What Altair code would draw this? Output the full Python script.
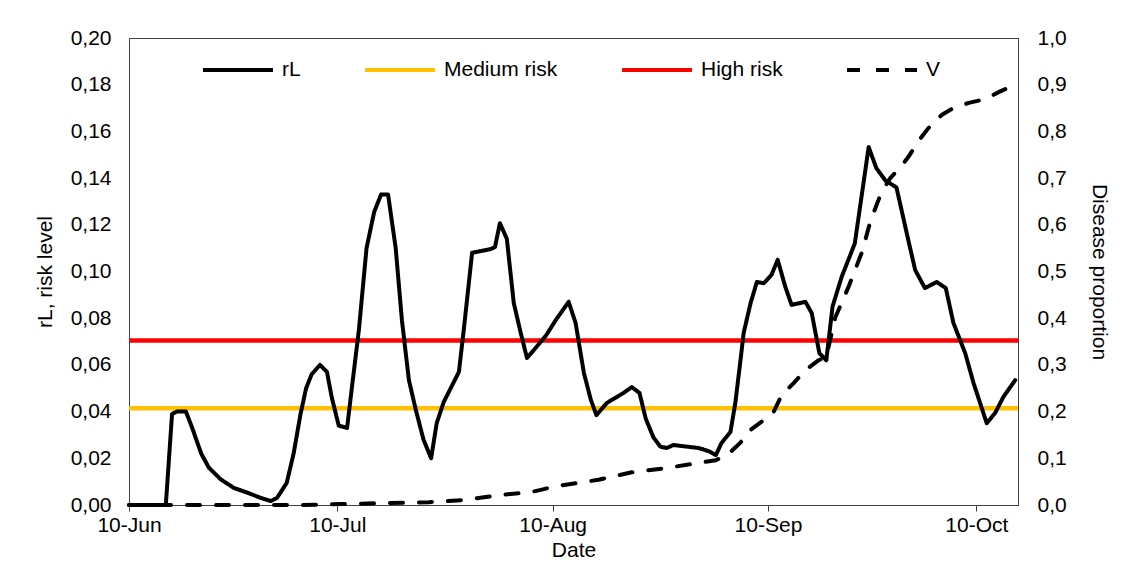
import json
import altair as alt
import pandas as pd

# ---- data ----
# days counted from 10 June
rl_day = [0.0, 5.3, 6.2, 6.9, 8.2, 9.1, 10.4, 11.5, 13.2, 15.1, 17.3, 19.0, 20.4, 21.3, 22.7,
          23.7, 24.7, 25.5, 26.3, 27.5, 28.5, 29.2, 30.2, 31.4, 32.1, 33.1, 34.2, 35.3, 36.3,
          37.3, 38.4, 39.3, 40.3, 41.3, 42.4, 43.5, 44.3, 45.3, 47.5, 48.2, 49.4, 52.1, 52.7,
          53.4, 54.4, 55.4, 56.4, 57.3, 58.3, 60.1, 61.4, 63.3, 64.3, 65.5, 66.5, 67.3, 68.8,
          71.2, 72.4, 73.5, 74.4, 75.5, 76.5, 77.4, 78.4, 82.0, 83.5, 84.5, 85.3, 86.6, 87.3,
          88.1, 88.5, 89.5, 90.4, 91.4, 92.5, 93.4, 94.5, 95.4, 97.4, 98.3, 99.4, 100.4, 101.3,
          102.6, 104.5, 106.5, 107.6, 108.9, 110.5, 112.2, 113.2, 114.6, 116.3, 117.6, 118.7,
          120.4, 121.6, 123.5, 124.7, 125.9, 127.6]
rl_value = [0.000, 0.000, 0.039, 0.040, 0.040, 0.033, 0.022, 0.016, 0.011, 0.0073, 0.005, 0.003,
            0.0017, 0.003, 0.0094, 0.022, 0.039, 0.050, 0.056, 0.060, 0.057, 0.046, 0.034, 0.033,
            0.0505, 0.075, 0.110, 0.1255, 0.133, 0.133, 0.110, 0.079, 0.0535, 0.0407, 0.028, 0.020,
            0.035, 0.044, 0.057, 0.075, 0.108, 0.1096, 0.1105, 0.1207, 0.114, 0.0865, 0.0737, 0.063,
            0.0664, 0.0728, 0.079, 0.087, 0.078, 0.0565, 0.045, 0.0385, 0.0437, 0.048, 0.0505, 0.048,
            0.037, 0.029, 0.025, 0.0244, 0.0257, 0.0244, 0.023, 0.0214, 0.0265, 0.0313, 0.0437,
            0.0634, 0.0737, 0.0865, 0.0955, 0.095, 0.0985, 0.105, 0.0934, 0.0857, 0.087, 0.0822,
            0.065, 0.062, 0.085, 0.0976, 0.112, 0.1533, 0.1443, 0.139, 0.136, 0.1135, 0.1006,
            0.0929, 0.0955, 0.0929, 0.078, 0.065, 0.0522, 0.035, 0.0394, 0.0463, 0.0535]

v_day = [0.0, 24.5, 30.6, 43.2, 48.5, 53.2, 58.0, 61.4, 67.6, 72.4, 77.3, 82.0, 84.5, 86.3,
         88.0, 89.5, 91.4, 92.8, 94.0, 95.7, 97.4, 99.3, 100.4, 101.7, 103.6, 105.5, 106.8,
         108.3, 109.6, 111.1, 112.2, 113.7, 115.1, 117.0, 118.7, 120.9, 123.3, 125.2, 127.6]
v_value = [0.0, 0.0, 0.002, 0.006, 0.011, 0.021, 0.028, 0.040, 0.054, 0.070, 0.079, 0.090, 0.096,
           0.109, 0.133, 0.161, 0.182, 0.199, 0.236, 0.261, 0.289, 0.310, 0.317, 0.402, 0.467,
           0.540, 0.610, 0.668, 0.700, 0.724, 0.745, 0.780, 0.807, 0.835, 0.850, 0.861, 0.869,
           0.884, 0.900]

level_names = ["Medium risk", "High risk"]
level_values = [0.0414, 0.0704]

series_names = ["rL", "Medium risk", "High risk", "V"]
series_colors = ["#000000", "#FFC000", "#FF0000", "#000000"]
series_dash = [[1, 0], [1, 0], [1, 0], [13, 16]]

tick_days = [0, 30, 61, 92, 122]
tick_labels = ["10-Jun", "10-Jul", "10-Aug", "10-Sep", "10-Oct"]
left_ticks = [0.00, 0.02, 0.04, 0.06, 0.08, 0.10, 0.12, 0.14, 0.16, 0.18, 0.20]
right_ticks = [0.0, 0.1, 0.2, 0.3, 0.4, 0.5, 0.6, 0.7, 0.8, 0.9, 1.0]

# ---- tables ----
rl_df = pd.DataFrame({"day": rl_day, "value": rl_value, "series": "rL"})
v_df = pd.DataFrame({"day": v_day, "value": v_value, "series": "V"})
lvl_df = pd.DataFrame({"level": level_values, "series": level_names})

FONT = "Liberation Sans"
FS = 21

x_enc = alt.X(
    "day:Q",
    scale=alt.Scale(domain=[0, 128], nice=False, zero=False),
    axis=alt.Axis(
        values=tick_days,
        labelExpr=f"{json.dumps(tick_labels)}[indexof({json.dumps(tick_days)}, datum.value)]",
        title="Date",
        ticks=True, tickSize=6, tickColor="#404040",
        labelPadding=3, titlePadding=4, labelFlush=False,
    ),
)

y_left_scale = alt.Scale(domain=[0, 0.2], nice=False, zero=True)
y_right_scale = alt.Scale(domain=[0, 1.0], nice=False, zero=True)

left_axis = alt.Axis(
    orient="left", values=left_ticks, title="rL, risk level",
    labelExpr="replace(format(datum.value, '.2f'), '.', ',')",
    ticks=False, labelPadding=18, titlePadding=15,
)
right_axis = alt.Axis(
    orient="right", values=right_ticks, title="Disease proportion", titleAngle=90,
    labelExpr="replace(format(datum.value, '.1f'), '.', ',')",
    ticks=False, labelPadding=19, titlePadding=22,
)

legend = alt.Legend(
    title=None, orient="none", legendX=72, legendY=-5, direction="horizontal",
    columns=4, columnPadding=56, symbolType="stroke", symbolSize=4900,
    symbolStrokeWidth=4, labelFontSize=FS, labelFont=FONT, labelColor="black",
    labelOffset=7, padding=0, labelLimit=300,
)

color = alt.Color("series:N", scale=alt.Scale(domain=series_names, range=series_colors), legend=legend)
dash = alt.StrokeDash("series:N", scale=alt.Scale(domain=series_names, range=series_dash), legend=legend)

rules = alt.Chart(lvl_df).mark_rule(strokeWidth=4.5).encode(
    y=alt.Y("level:Q", scale=y_left_scale, axis=left_axis),
    color=color, strokeDash=dash,
)
rl_line = alt.Chart(rl_df).mark_line(strokeWidth=4, strokeJoin="round", strokeCap="round").encode(
    x=x_enc,
    y=alt.Y("value:Q", scale=y_left_scale, axis=left_axis),
    color=color, strokeDash=dash, order="day:Q",
)
v_line = alt.Chart(v_df).mark_line(strokeWidth=4, strokeJoin="round", strokeCap="round").encode(
    x=x_enc,
    y=alt.Y("value:Q", scale=y_right_scale, axis=right_axis),
    color=color, strokeDash=dash, order="day:Q",
)

chart = (
    alt.layer(alt.layer(rules, rl_line), v_line)
    .resolve_scale(y="independent")
    .properties(
        width=889, height=467,
        padding={"left": 121, "top": 30, "right": 109, "bottom": 59},
        autosize=alt.AutoSizeParams(type="none"),
        background="white",
    )
    .configure_view(stroke="#404040", strokeWidth=1)
    .configure_axis(
        grid=False, labelFont=FONT, titleFont=FONT, labelFontSize=FS, titleFontSize=FS,
        titleFontWeight="normal", labelColor="black", titleColor="black",
        domainColor="#404040", domainWidth=1,
    )
)

chart.save("out.html", embed_options={"renderer": "svg", "actions": False})
